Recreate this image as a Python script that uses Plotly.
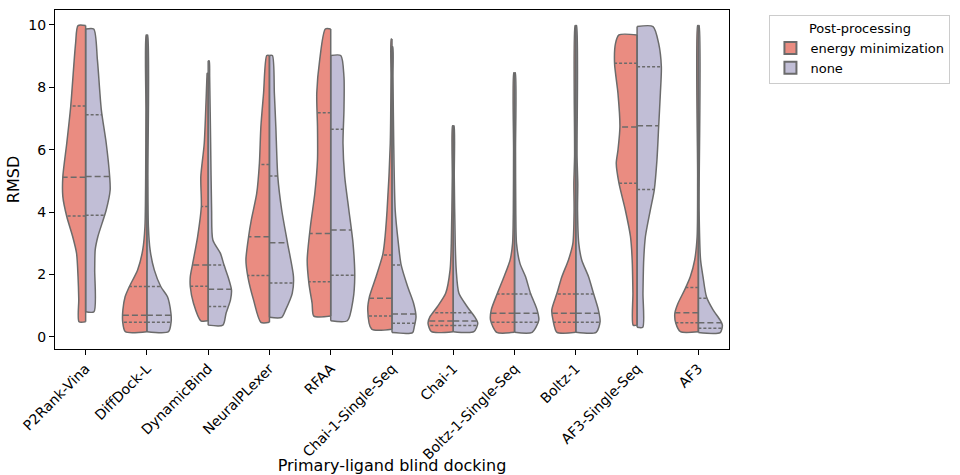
import numpy as np
import plotly.graph_objects as go

methods = ["P2Rank-Vina", "DiffDock-L", "DynamicBind", "NeuralPLexer", "RFAA",
           "Chai-1-Single-Seq", "Chai-1", "Boltz-1-Single-Seq", "Boltz-1",
           "AF3-Single-Seq", "AF3"]
groups = ["energy minimization", "none"]

# Density profiles: RMSD levels and relative density
em_rmsd = [
    [0.49, 1.2, 1.93, 2.68, 3.22, 3.86, 4.5, 5.14, 6.21, 7.38, 9.41, 9.98],
    [0.17, 0.5, 0.87, 1.29, 1.61, 2.15, 2.79, 3.54, 5.14, 7.28, 9.68],
    [0.52, 1.08, 1.61, 1.93, 2.32, 3.22, 4.18, 5.14, 6.21, 8.34, 8.45],
    [0.47, 1.19, 1.93, 2.47, 3.22, 3.75, 4.6, 5.57, 6.74, 7.81, 9.02],
    [0.67, 1.08, 1.72, 2.47, 3.54, 4.6, 5.67, 6.74, 7.81, 8.88, 9.87],
    [0.25, 0.87, 1.29, 1.93, 2.63, 3.0, 4.07, 6.21, 8.34, 9.55],
    [0.17, 0.44, 0.65, 0.97, 1.40, 2.15, 3.0, 5.14, 6.77],
    [0.15, 0.54, 0.87, 1.40, 1.93, 2.47, 3.0, 4.0, 6.0, 8.47],
    [0.15, 0.54, 0.87, 1.40, 1.93, 2.47, 3.0, 4.07, 4.9, 5.8, 9.98],
    [0.38, 1.40, 2.47, 3.22, 4.07, 4.93, 5.57, 5.99, 6.74, 7.81, 8.77, 9.41, 9.68],
    [0.17, 0.44, 0.76, 1.08, 1.51, 1.93, 2.47, 3.22, 5.14, 9.98],
]
em_dens = [
    [0.27, 0.28, 0.31, 0.37, 0.53, 0.77, 0.93, 0.93, 0.77, 0.61, 0.41, 0.31],
    [0.88, 0.99, 0.98, 0.89, 0.72, 0.38, 0.17, 0.08, 0.05, 0.04, 0.03],
    [0.30, 0.60, 0.73, 0.73, 0.64, 0.43, 0.28, 0.30, 0.16, 0.05, 0.04],
    [0.35, 0.65, 0.88, 0.96, 0.85, 0.74, 0.52, 0.41, 0.35, 0.24, 0.11],
    [0.69, 0.76, 0.89, 0.96, 0.83, 0.65, 0.54, 0.54, 0.57, 0.45, 0.22],
    [0.83, 0.99, 0.92, 0.65, 0.38, 0.31, 0.20, 0.07, 0.04, 0.03],
    [0.89, 1.03, 0.95, 0.65, 0.31, 0.13, 0.08, 0.04, 0.03],
    [0.73, 0.98, 0.95, 0.70, 0.43, 0.18, 0.08, 0.05, 0.04, 0.03],
    [0.77, 0.93, 0.98, 0.77, 0.57, 0.30, 0.12, 0.07, 0.08, 0.05, 0.03],
    [0.16, 0.17, 0.20, 0.27, 0.48, 0.74, 0.85, 0.78, 0.70, 0.78, 0.92, 0.88, 0.74],
    [0.73, 0.92, 0.96, 0.83, 0.56, 0.33, 0.15, 0.05, 0.03, 0.03],
]
none_rmsd = [
    [0.81, 2.15, 2.79, 3.22, 4.07, 4.71, 5.14, 6.21, 7.28, 8.88, 9.87],
    [0.17, 0.5, 0.76, 1.29, 1.61, 2.15, 2.79, 3.54, 5.14, 9.68],
    [0.38, 0.76, 1.19, 1.51, 1.93, 2.32, 2.68, 3.11, 4.07, 6.21, 8.34, 8.85],
    [0.63, 0.87, 1.40, 1.93, 3.0, 4.07, 5.14, 6.74, 7.81, 9.02],
    [0.52, 1.19, 1.93, 3.0, 4.07, 5.14, 6.21, 7.28, 8.34, 9.02],
    [0.14, 0.33, 0.65, 1.08, 1.61, 2.32, 3.0, 4.07, 6.21, 8.34, 9.30],
    [0.17, 0.44, 0.65, 0.97, 1.40, 2.15, 3.0, 5.14, 6.77],
    [0.15, 0.54, 0.87, 1.40, 1.93, 2.36, 3.0, 4.07, 6.0, 8.47],
    [0.15, 0.49, 0.87, 1.40, 1.93, 2.47, 3.0, 4.07, 4.9, 5.8, 9.98],
    [0.31, 1.40, 2.47, 3.22, 4.07, 4.71, 5.67, 6.74, 7.81, 8.66, 9.41, 9.95],
    [0.14, 0.38, 0.54, 0.87, 1.29, 1.93, 2.47, 4.07, 9.98],
]
none_dens = [
    [0.34, 0.37, 0.39, 0.50, 0.84, 1.00, 0.98, 0.84, 0.64, 0.48, 0.33],
    [0.88, 0.99, 0.98, 0.84, 0.57, 0.30, 0.13, 0.06, 0.04, 0.03],
    [0.60, 0.73, 0.91, 0.95, 0.81, 0.64, 0.50, 0.19, 0.14, 0.10, 0.06, 0.04],
    [0.50, 0.66, 0.93, 0.98, 0.74, 0.50, 0.34, 0.26, 0.20, 0.12],
    [0.68, 0.91, 0.98, 0.91, 0.74, 0.57, 0.50, 0.54, 0.54, 0.41],
    [0.84, 0.91, 0.98, 0.88, 0.64, 0.37, 0.26, 0.13, 0.07, 0.04, 0.03],
    [0.84, 1.00, 0.87, 0.57, 0.23, 0.12, 0.08, 0.04, 0.03],
    [0.72, 0.99, 0.92, 0.65, 0.45, 0.22, 0.08, 0.05, 0.04, 0.03],
    [0.83, 0.99, 0.92, 0.72, 0.52, 0.24, 0.12, 0.07, 0.08, 0.05, 0.03],
    [0.23, 0.24, 0.27, 0.34, 0.54, 0.70, 0.81, 0.88, 0.95, 0.99, 0.88, 0.65],
    [0.89, 0.98, 0.89, 0.60, 0.33, 0.19, 0.09, 0.03, 0.03],
]

# Quartiles (RMSD)
em_q1 = [3.88, 0.47, 1.63, 1.97, 1.77, 0.67, 0.37, 0.47, 0.47, 4.93, 0.46]
em_med = [5.12, 0.70, 2.31, 3.21, 3.32, 1.24, 0.51, 0.76, 0.76, 6.73, 0.78]
em_q3 = [7.40, 1.62, 4.18, 5.53, 7.19, 2.63, 0.78, 1.38, 1.38, 8.77, 1.59]
none_q1 = [3.90, 0.47, 0.98, 1.73, 1.98, 0.44, 0.37, 0.47, 0.47, 4.73, 0.28]
none_med = [5.14, 0.70, 1.53, 3.02, 3.43, 0.74, 0.51, 0.76, 0.76, 6.77, 0.46]
none_q3 = [7.12, 1.62, 2.31, 5.16, 6.66, 2.31, 0.78, 1.38, 1.38, 8.66, 1.24]

y_ticks = [0, 2, 4, 6, 8, 10]

HALF = 0.4
LINE = "#6b6b6b"
colors = {"energy minimization": "#ea8c81", "none": "#c1bed6"}
FONT = "DejaVu Sans"

fig = go.Figure()

sides = [
    (groups[0], em_rmsd, em_dens, em_q1, em_med, em_q3, -1),
    (groups[1], none_rmsd, none_dens, none_q1, none_med, none_q3, 1),
]

cx, cy = [], []
mx, my = [], []
qx, qy = [], []
for name, rm, dn, q1s, meds, q3s, sign in sides:
    for i, (ys, ds) in enumerate(zip(rm, dn)):
        ys = np.array(ys, dtype=float)
        ws = np.array(ds, dtype=float) * HALF
        x = np.concatenate([[i], i + sign * ws, [i]])
        y = np.concatenate([[ys[0]], ys, [ys[-1]]])
        fig.add_trace(go.Scatter(
            x=x, y=y, mode="lines", fill="toself", fillcolor=colors[name],
            line=dict(color=LINE, width=1.5, shape="spline", smoothing=0.7),
            name=name, legendgroup=name, showlegend=False, hoverinfo="skip"))
        cx += [i, i, None]
        cy += [ys[0], ys[-1], None]
        for q, lx, ly in ((q1s[i], qx, qy), (q3s[i], qx, qy), (meds[i], mx, my)):
            w = np.interp(q, ys, ws)
            lx += [i, i + sign * w, None]
            ly += [q, q, None]

fig.add_trace(go.Scatter(x=cx, y=cy, mode="lines", line=dict(color=LINE, width=1.5),
                         showlegend=False, hoverinfo="skip"))
fig.add_trace(go.Scatter(x=mx, y=my, mode="lines",
                         line=dict(color=LINE, width=1.5, dash="6px,3px"),
                         showlegend=False, hoverinfo="skip"))
fig.add_trace(go.Scatter(x=qx, y=qy, mode="lines",
                         line=dict(color=LINE, width=1.5, dash="3px,2px"),
                         showlegend=False, hoverinfo="skip"))

# legend entries
for name in groups:
    fig.add_trace(go.Bar(x=[None], y=[None], name=name,
                         marker=dict(color=colors[name], line=dict(color=LINE, width=1)),
                         showlegend=True, hoverinfo="skip"))

axis_common = dict(showline=True, linecolor="black", linewidth=1, mirror=True,
                   ticks="outside", ticklen=5, tickwidth=1, tickcolor="black",
                   showgrid=False, zeroline=False, automargin=False,
                   tickfont=dict(family=FONT, size=14, color="black"))

fig.update_layout(
    width=960, height=475,
    margin=dict(l=55, r=228, t=10, b=126),
    plot_bgcolor="white", paper_bgcolor="white",
    font=dict(family=FONT, size=13, color="black"),
    xaxis=dict(range=[-0.5, 10.5], tickmode="array",
               tickvals=list(range(len(methods))), ticktext=methods,
               tickangle=-45,
               title=dict(text="Primary-ligand blind docking",
                          font=dict(family=FONT, size=16, color="black"), standoff=4),
               **axis_common),
    yaxis=dict(range=[-0.385, 10.48], tickmode="array", tickvals=y_ticks,
               ticktext=[str(t) for t in y_ticks],
               title=dict(text="RMSD", font=dict(family=FONT, size=16, color="black"),
                          standoff=4),
               **axis_common),
    legend=dict(x=1.06, y=0.985, xanchor="left", yanchor="top",
                bordercolor="#cccccc", borderwidth=1, bgcolor="white",
                font=dict(family=FONT, size=13, color="black"),
                title=dict(text="Post-processing", side="top center",
                           font=dict(family=FONT, size=13, color="black")),
                tracegroupgap=2, itemsizing="constant"),
    showlegend=True,
)

fig.write_html("out.html")
